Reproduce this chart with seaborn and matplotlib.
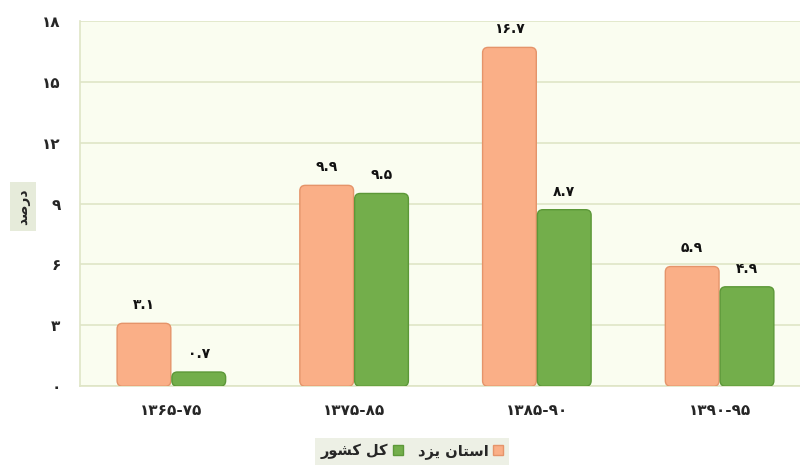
import numpy as np
import pandas as pd
import matplotlib
matplotlib.use("Agg")
import matplotlib.pyplot as plt
import seaborn as sns
from matplotlib.patches import FancyBboxPatch

# data
periods = ["۱۳۶۵-۷۵", "۱۳۷۵-۸۵", "۱۳۸۵-۹۰", "۱۳۹۰-۹۵"]
yazd = [3.1, 9.9, 16.7, 5.9]
country = [0.7, 9.5, 8.7, 4.9]
yazd_name = "استان یزد"
country_name = "کل کشور"
ylabel_text = "درصد"
yticks = [0, 3, 6, 9, 12, 15, 18]

# minimal arabic shaping (matplotlib does not join letters or do rtl)
FORMS = {
    "ا": ("\uFE8D", "\uFE8E"), "س": ("\uFEB1", "\uFEB2", "\uFEB3", "\uFEB4"),
    "ت": ("\uFE95", "\uFE96", "\uFE97", "\uFE98"), "ن": ("\uFEE5", "\uFEE6", "\uFEE7", "\uFEE8"),
    "ی": ("\uFBFC", "\uFBFD", "\uFBFE", "\uFBFF"), "ز": ("\uFEAF", "\uFEB0"),
    "د": ("\uFEA9", "\uFEAA"), "ک": ("\uFB8E", "\uFB8F", "\uFB90", "\uFB91"),
    "ل": ("\uFEDD", "\uFEDE", "\uFEDF", "\uFEE0"), "ش": ("\uFEB5", "\uFEB6", "\uFEB7", "\uFEB8"),
    "و": ("\uFEED", "\uFEEE"), "ر": ("\uFEAD", "\uFEAE"),
    "ص": ("\uFEB9", "\uFEBA", "\uFEBB", "\uFEBC"),
}


def shape(s):
    out = []
    for i, ch in enumerate(s):
        if ch not in FORMS:
            out.append(ch)
            continue
        f = FORMS[ch]
        prev = s[i - 1] if i > 0 else None
        nxt = s[i + 1] if i + 1 < len(s) else None
        jp = prev in FORMS and len(FORMS[prev]) == 4
        jn = len(f) == 4 and nxt in FORMS
        if jp and jn:
            out.append(f[3])
        elif jp:
            out.append(f[1])
        elif jn:
            out.append(f[2])
        else:
            out.append(f[0])
    return "".join(out[::-1])


def fa_num(v):
    return str(v).translate(str.maketrans("0123456789", "۰۱۲۳۴۵۶۷۸۹"))


df = pd.DataFrame({
    "period": periods * 2,
    "value": yazd + country,
    "series": [shape(yazd_name)] * 4 + [shape(country_name)] * 4,
})

sns.set_theme(style="white")
plt.rcParams["font.family"] = ["DejaVu Sans", "Noto Sans"]

fig = plt.figure(figsize=(8, 4.67), dpi=100)
ax = fig.add_axes([0.10, 0.173, 0.90, 0.782])
ax.set_facecolor("#FAFDF0")

colors = ["#FAAF87", "#73AE4B"]
edges = ["#E5946A", "#5C9838"]
sns.barplot(data=df, x="period", y="value", hue="series", palette=colors,
            width=0.6, gap=0.02, ax=ax, legend=False, zorder=3)

# rounded tops
for i, p in enumerate(list(ax.patches)):
    k = i // 4
    x, y0 = p.get_x(), p.get_y()
    w, h = p.get_width(), p.get_height()
    rb = FancyBboxPatch((x, y0), w, h, boxstyle="round,pad=0,rounding_size=0.03",
                        mutation_aspect=9.0, facecolor=colors[k], edgecolor=edges[k],
                        linewidth=1.0, zorder=3)
    p.set_visible(False)
    ax.add_patch(rb)
    ax.text(x + w / 2, y0 + h + 0.55, fa_num(yazd[i % 4] if k == 0 else country[i % 4]),
            ha="center", va="bottom", fontsize=10, fontweight="bold", color="#111111")

ax.set_ylim(0, 18)
ax.set_xlim(-0.5, 3.44)
ax.set_yticks(yticks)
ax.set_yticklabels([fa_num(t) for t in yticks], fontsize=11, fontweight="bold")
ax.set_xticks(range(4))
ax.set_xticklabels(periods, fontsize=11, fontweight="bold")
ax.tick_params(axis="y", length=0, pad=14)
ax.tick_params(axis="x", length=0, pad=12)
ax.set_xlabel("")
ax.set_ylabel("")
ax.yaxis.grid(True, color="#DFE5C6", linewidth=1.2, zorder=0)
ax.set_axisbelow(True)
for side in ["top", "right"]:
    ax.spines[side].set_visible(False)
for side in ["left", "bottom"]:
    ax.spines[side].set_color("#DFE5C6")
    ax.spines[side].set_linewidth(1.2)

fig.text(0.029, 0.558, shape(ylabel_text), rotation=90, ha="center", va="center",
         fontsize=10, fontweight="bold",
         bbox=dict(boxstyle="square,pad=0.45", facecolor="#E6EBDA", edgecolor="none"))

handles = [plt.Rectangle((0, 0), 1, 1, facecolor=colors[1], edgecolor=edges[1]),
           plt.Rectangle((0, 0), 1, 1, facecolor=colors[0], edgecolor=edges[0])]
leg = fig.legend(handles, [shape(country_name), shape(yazd_name)], loc="lower center",
                 bbox_to_anchor=(0.515, -0.012), ncol=2, markerfirst=False, frameon=True,
                 fancybox=False, handlelength=0.7, handleheight=0.7, columnspacing=1.0,
                 handletextpad=0.3, prop={"size": 10.5, "weight": "bold"})
leg.get_frame().set_facecolor("#E9EDDF")
leg.get_frame().set_edgecolor("none")

fig.savefig("out.png", dpi=100, facecolor="white")
